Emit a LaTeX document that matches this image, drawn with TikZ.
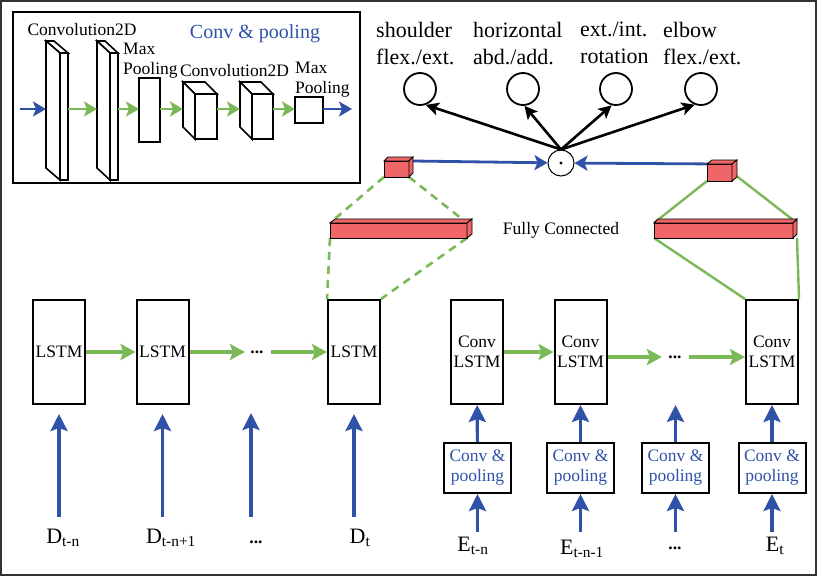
\documentclass[tikz,border=0pt]{standalone}
\usepackage{fontspec}
\setmainfont{Liberation Serif}
\usepackage{xcolor}
\usepackage{tikz}
\usetikzlibrary{arrows.meta,calc}

\definecolor{netblue}{RGB}{47,82,168}
\definecolor{netgreen}{RGB}{122,184,88}
\definecolor{netred}{RGB}{240,102,104}

% top face and side face of a box whose front face is the node #1
\newcommand{\depthfaces}[5]{%
  \filldraw[#5] (#1.north west) -- ++(#2,#3) -- ($(#1.north east)+(#2,#3)$) -- (#1.north east) -- cycle;
  \filldraw[#5] (#1.north #4) -- ++(#2,#3) -- ($(#1.south #4)+(#2,#3)$) -- (#1.south #4) -- cycle;
}

\begin{document}
\begin{tikzpicture}[x=1pt, y=-1pt,
    lbl/.style={font=\fontsize{17.5}{20}\selectfont, align=center},
    toplbl/.style={font=\fontsize{22}{27.5}\selectfont, align=left, anchor=north west, inner sep=0pt},
    sublbl/.style={font=\fontsize{22}{26}\selectfont, anchor=base, inner sep=0pt},
    dotlbl/.style={font=\bfseries\fontsize{17.5}{20}\selectfont},
    cell/.style={draw, line width=2pt, minimum width=52pt, minimum height=104pt, inner sep=0pt, lbl},
    cpbox/.style={draw, line width=2pt, minimum width=67pt, minimum height=50pt, inner sep=0pt, lbl, text=netblue},
    face/.style={draw, line width=1.6pt, fill=white, inner sep=0pt, outer sep=0pt},
    redface/.style={draw, line width=0.8pt, fill=netred, inner sep=0pt, outer sep=0pt},
    garr/.style={netgreen, line width=3.2pt, -{Stealth[length=15pt,width=16pt,inset=3pt]}},
    gsmall/.style={netgreen, line width=2.8pt, -{Stealth[length=13pt,width=15pt,inset=3pt]}},
    bsmall/.style={netblue, line width=2.8pt, -{Stealth[length=13pt,width=15pt,inset=3pt]}},
    barr/.style={netblue, line width=3.2pt, -{Stealth[length=17pt,width=17pt,inset=3pt]}},
    karr/.style={black, line width=2.6pt, -{Stealth[length=13pt,width=13pt,inset=3pt]}},
    gline/.style={netgreen, line width=2.4pt},
    gdash/.style={netgreen, line width=2.6pt, dash pattern=on 8pt off 6pt},
  ]
  \useasboundingbox (0,0) rectangle (820,576);
  \draw[line width=2pt, black!80] (1,1) rectangle (815.5,575);

  % conv & pooling block
  \node[draw, line width=1.2pt, minimum width=347pt, minimum height=171pt] (inset) at (186.5,97.5) {};
  \coordinate (axis) at (0,109);
  \coordinate (src) at (20,109);
  \coordinate (out) at (352,109);
  \node[face, minimum width=8pt, minimum height=127pt] (conv1) at (64,116.5) {};
  \depthfaces{conv1}{-14}{-12}{west}{face}
  \node[face, minimum width=8pt, minimum height=127pt] (conv2) at (114,116.5) {};
  \depthfaces{conv2}{-13}{-12}{west}{face}
  \node[face, minimum width=21pt, minimum height=64pt] (pool1) at (149.5,110) {};
  \node[face, minimum width=22pt, minimum height=45pt] (conv3) at (206,116.5) {};
  \depthfaces{conv3}{-12}{-12}{west}{face}
  \node[face, minimum width=21pt, minimum height=45pt] (conv4) at (262.5,116.5) {};
  \depthfaces{conv4}{-12}{-12}{west}{face}
  \node[face, minimum width=28pt, minimum height=26pt] (pool2) at (309,110) {};
  \node[lbl, anchor=base] (c2d1) at (82,35) {Convolution2D};
  \node[lbl, anchor=north west, align=left, inner sep=0pt] (mp1) at (123,43) {Max\\Pooling};
  \node[lbl, anchor=base] (c2d2) at (234.5,76.5) {Convolution2D};
  \node[lbl, anchor=north west, align=left, inner sep=0pt] (mp2) at (295,61.5) {Max\\Pooling};
  \node[font=\fontsize{20}{24}\selectfont, text=netblue, anchor=base] (cp) at (255,38.7) {Conv \& pooling};
  \path
    (src) edge[bsmall, shorten >=14pt] (conv1.west |- axis)
    (conv1.east |- axis) edge[gsmall, shorten >=13pt] (conv2.west |- axis)
    (conv2.east |- axis) edge[gsmall] (pool1.west |- axis)
    (pool1.east |- axis) edge[gsmall, shorten >=12pt] (conv3.west |- axis)
    (conv3.east |- axis) edge[gsmall, shorten >=12pt] (conv4.west |- axis)
    (conv4.east |- axis) edge[gsmall] (pool2.west |- axis)
    (pool2.east |- axis) edge[bsmall] (out);

  % joint outputs
  \node[toplbl] (sf) at (376,21.7) {shoulder\\flex./ext.};
  \node[toplbl] (ha) at (473,21.7) {horizontal\\abd./add.};
  \node[toplbl] (ir) at (580,21.7) {ext./int.\\rotation};
  \node[toplbl] (ef) at (663,21.7) {elbow\\flex./ext.};
  \node[draw, circle, line width=1.8pt, minimum size=32pt, inner sep=0pt] (o1) at (420,89) {};
  \node[draw, circle, line width=1.8pt, minimum size=32pt, inner sep=0pt] (o2) at (523,89) {};
  \node[draw, circle, line width=1.8pt, minimum size=32pt, inner sep=0pt] (o3) at (616,89) {};
  \node[draw, circle, line width=1.8pt, minimum size=32pt, inner sep=0pt] (o4) at (701,89) {};
  \node[draw, circle, line width=1pt, minimum size=26pt, inner sep=0pt] (hub) at (561,163) {};
  \fill (hub) circle (1.6pt);
  \path
    (hub.north) edge[karr] (o1.-70)
    (hub.north) edge[karr] (o2.-85)
    (hub.north) edge[karr] (o3.-105)
    (hub.north) edge[karr] (o4.-112);

  % fully connected layers
  \node[redface, minimum width=25pt, minimum height=16pt] (lc) at (396.5,169) {};
  \node[redface, minimum width=25pt, minimum height=17pt] (rc) at (719.5,172.5) {};
  \node[redface, minimum width=137pt, minimum height=15pt] (lfc) at (398.5,230.5) {};
  \node[redface, minimum width=139pt, minimum height=15pt] (rfc) at (723.5,230.5) {};
  \node[lbl] (fc) at (561,230) {Fully Connected};

  % LSTM branch
  \node[cell] (lstm1) at (59,352) {LSTM};
  \node[cell] (lstm2) at (162.5,352) {LSTM};
  \node[dotlbl] (ldots) at (257,352) {...};
  \node[cell] (lstm3) at (354,352) {LSTM};
  \coordinate (in1) at (59,517);
  \coordinate (in2) at (162.5,517);
  \coordinate (in3) at (251,517);
  \coordinate (top3) at (251,413);
  \coordinate (in4) at (354,517);
  \node[sublbl] (d1) at (63,543) {D\textsubscript{t-n}};
  \node[sublbl] (d2) at (171,543) {D\textsubscript{t-n+1}};
  \node[sublbl, dotlbl] (d3) at (256,543) {...};
  \node[sublbl] (d4) at (360,543) {D\textsubscript{t}};

  % ConvLSTM branch
  \node[cell] (clstm1) at (477,352) {Conv\\LSTM};
  \node[cell] (clstm2) at (580.5,352) {Conv\\LSTM};
  \node[dotlbl] (rdots) at (675,357) {...};
  \node[cell] (clstm3) at (772,352) {Conv\\LSTM};
  \node[cpbox] (cp1) at (477.5,468) {Conv \&\\pooling};
  \node[cpbox] (cp2) at (580.5,468) {Conv \&\\pooling};
  \node[cpbox] (cp3) at (675.5,468) {Conv \&\\pooling};
  \node[cpbox] (cp4) at (772,468) {Conv \&\\pooling};
  \coordinate (ctop3) at (675.5,405);
  \coordinate (jn1) at (477.5,532);
  \coordinate (jn2) at (580.5,532);
  \coordinate (jn3) at (675.5,532);
  \coordinate (jn4) at (772,532);
  \node[sublbl] (e1) at (473,551) {E\textsubscript{t-n}};
  \node[sublbl] (e2) at (582,554) {E\textsubscript{t-n-1}};
  \node[sublbl, dotlbl] (e3) at (675,549) {...};
  \node[sublbl] (e4) at (775,551) {E\textsubscript{t}};

  % connectors
  \path
    (lstm1) edge[garr] (lstm2)
    (lstm2.east |- ldots) edge[garr, shorten >=2pt] (ldots)
    (ldots) edge[garr, shorten <=4pt] (lstm3.west |- ldots)
    (in1) edge[barr, shorten >=9pt] (lstm1)
    (in2) edge[barr, shorten >=9pt] (lstm2)
    (in3) edge[barr] (top3)
    (in4) edge[barr, shorten >=9pt] (lstm3)
    (clstm1) edge[garr] (clstm2)
    (clstm2.east |- rdots) edge[garr, shorten >=3pt] (rdots)
    (rdots) edge[garr, shorten <=4pt] (clstm3.west |- rdots)
    (cp1) edge[barr] (clstm1)
    (cp2) edge[barr] (clstm2)
    (cp3) edge[barr] (ctop3)
    (cp4) edge[barr] (clstm3)
    (jn1) edge[barr] (cp1)
    (jn2) edge[barr] (cp2)
    (jn3) edge[barr] (cp3)
    (jn4) edge[barr] (cp4);
  \path
    (lc.south west) edge[gdash] (lfc.north west)
    (lc.south east) edge[gdash] (lfc.north east)
    (lfc.south west) edge[gdash] (lstm3.north west)
    (lfc.south east) edge[gdash] (lstm3.north east)
    (rc.south west) edge[gline] (rfc.north west)
    (rc.east) edge[gline] ([xshift=4pt]rfc.north east)
    (rfc.south west) edge[gline] (clstm3.north west)
    ([xshift=4pt]rfc.south east) edge[gline] (clstm3.north east);
  \path
    ([xshift=4pt]lc.north east) edge[bsmall] (hub)
    (rc.north) edge[bsmall] (hub);

  % red boxes on top of their lines
  \node[redface, minimum width=25pt, minimum height=16pt] at (lc) {};
  \depthfaces{lc}{4}{-4}{east}{redface}
  \node[redface, minimum width=25pt, minimum height=17pt] at (rc) {};
  \depthfaces{rc}{5}{-4}{east}{redface}
  \node[redface, minimum width=137pt, minimum height=15pt] at (lfc) {};
  \depthfaces{lfc}{5}{-4}{east}{redface}
  \node[redface, minimum width=139pt, minimum height=15pt] at (rfc) {};
  \depthfaces{rfc}{4}{-4}{east}{redface}
\end{tikzpicture}
\end{document}
